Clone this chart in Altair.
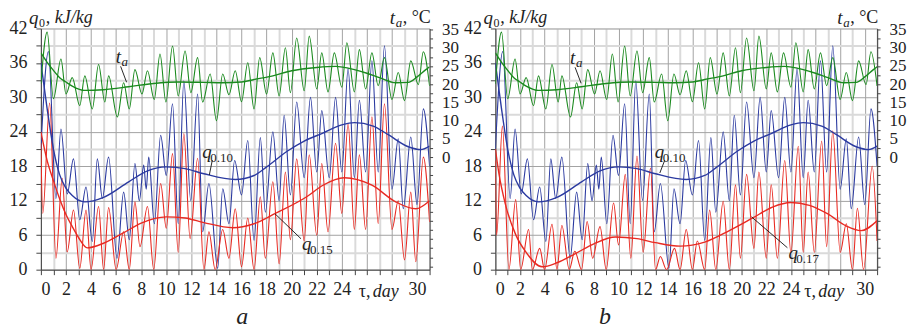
import altair as alt
import pandas as pd

FONT = "Liberation Serif"
GREEN = "#1b8a1f"
BLUE = "#2b3aa0"
RED = "#e82a22"
INK = "#222222"

# ---- ambient temperature t_a (degC), same in both panels ----
TA_D = [0.0, 0.5, 1.0, 1.6, 2.0, 2.5, 3.1, 3.5, 4.1, 4.6, 5.1, 5.4, 6.1, 6.6, 7.05, 7.5, 8.06, 8.5, 9.04, 9.5,
        9.97, 10.5, 10.95, 11.5, 11.96, 12.5, 12.9, 13.5, 14.0, 14.5, 15.0, 15.5, 16.0, 16.5, 17.0, 17.45, 18.0,
        18.5, 19.0, 19.5, 19.9, 20.4, 21.0, 21.4, 22.0, 22.4, 22.9, 23.4, 24.0, 24.4, 25.0, 25.4, 25.9, 26.4,
        26.9, 27.4, 28.0, 28.5, 29.0, 29.5, 30.1, 30.5, 31.0]
TA = [20.1, 34.3, 16.0, 26.9, 17.3, 21.8, 14.1, 22.3, 13.2, 25.4, 15.1, 22.3, 11.0, 20.4, 13.2, 24.0, 17.3, 23.7,
      15.8, 28.3, 15.1, 30.5, 16.8, 29.1, 17.7, 27.3, 15.1, 22.8, 10.0, 22.8, 17.1, 23.7, 15.2, 25.9, 13.2, 27.3,
      17.3, 28.6, 16.8, 30.0, 17.7, 32.7, 18.2, 33.2, 18.7, 28.6, 17.9, 28.6, 19.2, 31.4, 17.9, 29.5, 18.7, 28.6,
      19.6, 27.3, 15.8, 23.2, 15.5, 26.4, 19.9, 28.9, 19.5]
TAS_D = [0, 0.5, 1, 1.5, 2, 2.5, 3.5, 5, 7, 9, 11, 13, 14.5, 16, 17, 18.5, 20, 22, 23.5, 25, 26, 27, 28.3, 29.3,
         30, 30.7, 31]
TAS = [28.6, 26.0, 23.8, 21.8, 20.6, 19.5, 18.3, 18.5, 19.3, 20.2, 20.6, 20.5, 20.4, 20.6, 21.3, 22.3, 23.7, 24.6,
       24.9, 24.0, 23.0, 21.8, 20.4, 20.5, 22.0, 24.0, 24.8]

# ---- q0.10 (kJ/kg), same in both panels ----
Q10_D = [0.0, 0.6, 1.2, 1.6, 2.1, 2.6, 3.1, 3.6, 4.1, 4.5, 4.9, 5.4, 6.07, 6.6, 7.05, 7.5, 7.85, 8.2, 8.4, 8.6,
         9.05, 9.55, 10.0, 10.5, 10.95, 11.4, 11.95, 12.5, 12.9, 13.4, 14.1, 14.5, 15.0, 15.45, 16.0, 16.5, 17.0,
         17.5, 17.9, 18.5, 19.0, 19.4, 19.9, 20.4, 21.0, 21.5, 22.0, 22.4, 23.0, 23.5, 24.0, 24.5, 25.0, 25.4,
         25.9, 26.4, 26.9, 27.4, 28.0, 28.5, 28.9, 29.5, 30.0, 30.5, 31.0]
Q10 = [21.0, 38.0, 12.4, 24.5, 13.2, 19.3, 8.7, 14.4, 4.9, 19.3, 12.4, 19.6, 2.0, 13.5, 5.2, 18.5, 12.0, 18.2,
       14.0, 19.6, 8.0, 23.4, 16.4, 28.9, 8.0, 32.9, 12.0, 30.6, 6.6, 15.0, 0.2, 14.1, 8.0, 19.0, 13.0, 22.5, 5.1,
       23.0, 10.0, 24.0, 12.0, 26.9, 13.0, 29.2, 16.0, 30.0, 17.0, 27.7, 16.0, 30.0, 17.0, 35.0, 16.0, 29.5, 17.0,
       36.4, 17.0, 39.0, 14.0, 22.8, 10.6, 23.1, 11.3, 28.0, 18.0]
Q10S_D = [0, 0.5, 1, 1.5, 2, 2.5, 3.5, 5, 7, 8.5, 10, 11.5, 13, 15.5, 17, 18, 19.7, 21, 22.4, 24, 25, 26.5, 27.7,
          29.3, 30.3, 31]
Q10S = [36, 28, 21, 16.5, 14.2, 12.9, 11.8, 12.6, 15.3, 17.2, 17.9, 17.6, 16.7, 15.7, 16.4, 17.9, 20.7, 22.4, 23.7,
        25.2, 25.6, 25.0, 23.5, 21.4, 20.9, 21.5]

# ---- q0.15 (panel a) ----
Q15_D = [0.0, 0.15, 0.7, 1.2, 1.7, 2.1, 2.6, 3.1, 3.6, 4.0, 4.6, 5.0, 5.4, 6.0, 6.6, 7.05, 7.5, 7.9, 8.5, 9.0,
         9.55, 10.0, 10.5, 10.95, 11.4, 11.9, 12.5, 13.0, 13.4, 13.9, 14.5, 15.0, 15.5, 16.0, 16.5, 17.0, 17.5,
         17.9, 18.5, 19.0, 19.5, 19.9, 20.4, 21.0, 21.4, 22.0, 22.4, 22.9, 23.5, 24.0, 24.5, 25.0, 25.4, 25.9,
         26.4, 26.9, 27.4, 28.0, 28.5, 29.0, 29.5, 29.9, 30.5, 31.0]
Q15 = [22.0, 9.8, 29.0, 2.0, 15.9, 3.1, 10.4, 0.2, 10.4, 0.0, 11.0, 0.0, 10.8, 0.0, 6.6, 0.0, 11.8, 4.0, 11.0, 0.0,
       15.0, 7.2, 20.2, 3.0, 23.7, 5.4, 19.4, 0.0, 6.6, 0.0, 7.0, 2.0, 10.6, 0.5, 9.0, 0.0, 12.7, 2.0, 15.3, 1.0,
       17.0, 5.2, 19.3, 5.0, 20.0, 6.0, 18.5, 6.6, 22.0, 9.8, 25.4, 7.0, 20.0, 7.0, 26.6, 8.0, 28.9, 7.0, 12.0,
       1.7, 13.5, 1.4, 19.6, 8.3]
Q15S_D = [0, 0.5, 1, 1.5, 2, 2.5, 3, 3.7, 5, 6.5, 8, 10, 11.5, 13, 15.3, 17, 18.7, 21.2, 22.5, 24.2, 26.4, 28.3,
          29.9, 31]
Q15S = [24, 19, 15.5, 12.3, 9.6, 7.5, 5.6, 3.8, 4.6, 6.3, 8.1, 9.2, 9.0, 8.2, 7.3, 8.0, 9.8, 12.7, 14.7, 16.0, 14.7,
        11.8, 10.6, 12.0]

# ---- q0.17 (panel b) ----
Q17_D = [0.0, 0.1, 0.57, 1.1, 1.65, 2.05, 2.7, 3.0, 3.6, 4.0, 4.6, 5.0, 5.4, 6.0, 6.45, 7.0, 7.45, 7.9, 8.5, 9.0,
         9.6, 10.0, 10.55, 11.0, 11.5, 12.0, 12.6, 13.0, 13.4, 13.9, 14.55, 15.0, 15.5, 16.0, 16.4, 17.0, 17.4,
         17.9, 18.5, 19.0, 19.5, 19.9, 20.4, 21.0, 21.4, 22.0, 22.4, 22.9, 23.5, 24.0, 24.6, 25.0, 25.4, 25.9,
         26.5, 26.9, 27.4, 28.0, 28.5, 29.0, 29.4, 29.9, 30.6, 31.0]
Q17 = [19.0, 6.0, 25.0, 0.0, 12.2, 0.0, 7.0, 0.0, 3.7, 0.0, 7.9, 0.0, 7.7, 0.0, 3.2, 0.0, 8.4, 2.0, 7.5, 0.0, 11.6,
       4.3, 16.6, 2.0, 19.8, 3.0, 17.7, 0.0, 2.3, 0.0, 3.7, 0.0, 7.0, 0.0, 5.0, 0.0, 10.4, 0.0, 11.9, 0.0, 14.8,
       2.0, 16.6, 3.7, 17.0, 2.0, 14.8, 2.0, 19.0, 2.9, 21.5, 3.0, 17.0, 3.0, 22.4, 4.0, 24.2, 3.0, 8.0, 0.0, 10.7,
       0.0, 18.0, 5.0]
Q17S_D = [0, 0.3, 0.8, 1.65, 2.5, 3.8, 5, 6.5, 8, 9.75, 11.5, 13, 15, 17, 19, 20.9, 22.5, 24, 25.5, 27, 28.5, 29.7,
          31]
Q17S = [21, 16.6, 11.5, 6.1, 3.0, 0.5, 1.2, 2.8, 4.5, 5.7, 5.4, 4.7, 4.1, 4.8, 6.8, 9.0, 10.9, 11.7, 11.2, 9.7, 7.6,
        6.8, 8.5]

X_TICKS = list(range(0, 32))
Q_TICKS = list(range(0, 43, 3))
T_TICKS = [-30 + 2.5 * i for i in range(27)]

H = 242
xscale = alt.Scale(domain=[0, 31], nice=False, zero=False)
qscale = alt.Scale(domain=[0, 42], nice=False)
tscale = alt.Scale(domain=[-30.9, 35.3], nice=False, zero=False)

x_axis = alt.Axis(
    values=X_TICKS, title=None, grid=True, labelOverlap=False,
    labelExpr="(datum.value % 2 == 0 && datum.value != 26 && datum.value != 28) ? datum.label : ''",
    gridColor={"condition": {"test": "datum.value % 2 == 0", "value": "#a3a3a3"}, "value": "#dadada"},
    gridWidth={"condition": {"test": "datum.value % 2 == 0", "value": 1}, "value": 2},
    tickSize=5, tickColor="#444", domainColor="#444", labelFont=FONT, labelFontSize=18,
    labelColor=INK, labelPadding=6)
q_axis = alt.Axis(
    values=Q_TICKS, title=None, grid=True, labelOverlap=False,
    labelExpr="datum.value % 6 == 0 ? datum.label : ''",
    gridColor={"condition": {"test": "datum.value % 6 == 0", "value": "#a3a3a3"}, "value": "#dadada"},
    gridWidth={"condition": {"test": "datum.value % 6 == 0", "value": 1}, "value": 2},
    tickSize=5, tickColor="#444", domainColor="#444", labelFont=FONT, labelFontSize=18,
    labelColor=INK, labelPadding=9)
t_axis = alt.Axis(
    values=T_TICKS, title=None, grid=False, orient="right", labelOverlap=False,
    labelExpr="(datum.value >= 0 && datum.value % 5 == 0) ? datum.label : ''",
    tickSize=3, tickColor="#444", domainColor="#444", labelFont=FONT, labelFontSize=17,
    labelColor=INK, labelPadding=9)

ONE = pd.DataFrame({"k": [0]})


def line(d, v, color, width, yscale, yaxis):
    data = pd.DataFrame({"d": d, "v": v})
    return alt.Chart(data).mark_line(color=color, strokeWidth=width, interpolate="monotone", clip=True).encode(
        x=alt.X("d:Q", scale=xscale, axis=x_axis),
        y=alt.Y("v:Q", scale=yscale, axis=yaxis))


def txt(s, x, y, size=18, italic=False):
    return alt.Chart(ONE).mark_text(text=s, font=FONT, fontSize=size, fontStyle="italic" if italic else "normal",
                                    align="left", baseline="middle", color=INK).encode(
        x=alt.value(x), y=alt.value(y))


def seg(x1, y1, x2, y2):
    return alt.Chart(ONE).mark_rule(color="#111", strokeWidth=0.9).encode(
        x=alt.value(x1), y=alt.value(y1), x2=alt.value(x2), y2=alt.value(y2))


def panel(width, red_d, red_v, reds_d, reds_v, red_sub, red_lab, q10_lab, ta_lab, tau_x, letter, letter_x):
    rx, ry, rlx, rly = red_lab
    bx, by, blx, bly = q10_lab
    tx, ty = ta_lab
    q_layer = alt.layer(
        line(Q10_D, Q10, BLUE, 1.1, qscale, q_axis),
        line(red_d, red_v, RED, 1.1, qscale, q_axis),
        line(Q10S_D, Q10S, BLUE, 1.4, qscale, q_axis),
        line(reds_d, reds_v, RED, 1.4, qscale, q_axis),
        # axis titles
        txt("q", -12, -10, 19, True), txt("0", -2, -5, 12), txt(", kJ/kg", 5, -10, 18, True),
        txt("t", width - 40, -10, 19, True), txt("a", width - 34, -5, 13, True), txt(", °C", width - 27, -10, 18),
        # curve labels
        txt("t", tx, ty, 19, True), txt("a", tx + 6, ty + 5, 13, True),
        seg(tx + 5, ty + 9, tx + 11, ty + 25),
        txt("q", bx, by, 19, True), txt("0.10", bx + 8, by + 6, 13),
        seg(bx + 10, by + 8, blx, bly),
        txt("q", rx, ry, 19, True), txt(red_sub, rx + 8, ry + 6, 13),
        seg(rx - 1, ry - 5, rlx, rly),
        # x title and panel letter
        txt("τ,", tau_x, H + 22, 18), txt("day", tau_x + 14, H + 22, 18, True),
        txt(letter, letter_x, H + 48, 24, True),
    )
    t_layer = alt.layer(
        line(TA_D, TA, GREEN, 1.1, tscale, t_axis),
        line(TAS_D, TAS, GREEN, 1.4, tscale, t_axis),
    )
    return alt.layer(q_layer, t_layer).resolve_scale(y="independent").properties(width=width, height=H)


pa = panel(390, Q15_D, Q15, Q15S_D, Q15S, "0.15", (262, 216, 235, 186), (162, 124, 169, 147), (75, 29), 319,
           "a", 196)
pb = panel(383, Q17_D, Q17, Q17S_D, Q17S, "0.17", (294, 225, 257, 189), (160, 124, 165, 145), (75, 30), 310,
           "b", 104)

chart = alt.hconcat(pa, pb, spacing=3).properties(
    padding={"left": 0, "top": 0, "right": 0, "bottom": 0}
).configure_view(stroke=None).configure(background="white")

chart.save("out.html", embed_options={"renderer": "svg", "actions": False})
